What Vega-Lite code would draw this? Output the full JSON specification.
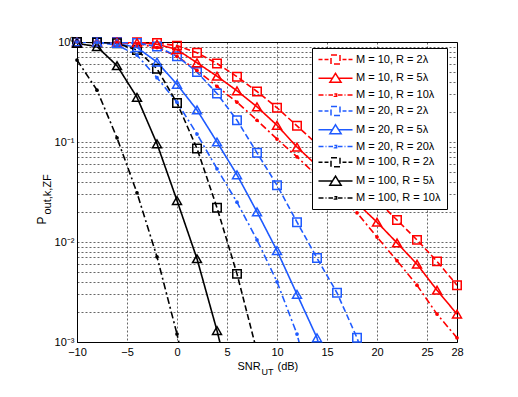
{
  "$schema": "https://vega.github.io/schema/vega-lite/v6.json",
  "width": 380,
  "height": 300,
  "autosize": {"type": "none"},
  "padding": {"left": 77, "top": 42, "right": 61, "bottom": 55},
  "background": "white",
  "config": {
    "view": {"stroke": "black", "strokeWidth": 1},
    "font": "Liberation Sans",
    "axis": {
      "labelFont": "Liberation Sans",
      "labelFontSize": 11,
      "labelColor": "black",
      "titleFont": "Liberation Sans",
      "titleFontWeight": "normal",
      "titleColor": "black",
      "domainColor": "black",
      "ticks": false,
      "gridColor": "#000000",
      "gridDash": [2, 2],
      "gridOpacity": 0.75,
      "gridWidth": 0.8
    }
  },
  "data": {
    "values": [
      {"s": "M = 10, R = 2λ", "x": -10, "y": 1},
      {"s": "M = 10, R = 2λ", "x": -8, "y": 1},
      {"s": "M = 10, R = 2λ", "x": -6, "y": 1},
      {"s": "M = 10, R = 2λ", "x": -4, "y": 0.995},
      {"s": "M = 10, R = 2λ", "x": -2, "y": 0.975},
      {"s": "M = 10, R = 2λ", "x": 0, "y": 0.92},
      {"s": "M = 10, R = 2λ", "x": 2, "y": 0.78},
      {"s": "M = 10, R = 2λ", "x": 4, "y": 0.61},
      {"s": "M = 10, R = 2λ", "x": 6, "y": 0.45},
      {"s": "M = 10, R = 2λ", "x": 8, "y": 0.32},
      {"s": "M = 10, R = 2λ", "x": 10, "y": 0.22},
      {"s": "M = 10, R = 2λ", "x": 12, "y": 0.145},
      {"s": "M = 10, R = 2λ", "x": 14, "y": 0.095},
      {"s": "M = 10, R = 2λ", "x": 16, "y": 0.062},
      {"s": "M = 10, R = 2λ", "x": 18, "y": 0.04},
      {"s": "M = 10, R = 2λ", "x": 20, "y": 0.026},
      {"s": "M = 10, R = 2λ", "x": 22, "y": 0.0166},
      {"s": "M = 10, R = 2λ", "x": 24, "y": 0.0105},
      {"s": "M = 10, R = 2λ", "x": 26, "y": 0.0064},
      {"s": "M = 10, R = 2λ", "x": 28, "y": 0.0037},
      {"s": "M = 10, R = 5λ", "x": -10, "y": 1},
      {"s": "M = 10, R = 5λ", "x": -8, "y": 1},
      {"s": "M = 10, R = 5λ", "x": -6, "y": 0.995},
      {"s": "M = 10, R = 5λ", "x": -4, "y": 0.985},
      {"s": "M = 10, R = 5λ", "x": -2, "y": 0.95},
      {"s": "M = 10, R = 5λ", "x": 0, "y": 0.84},
      {"s": "M = 10, R = 5λ", "x": 2, "y": 0.62},
      {"s": "M = 10, R = 5λ", "x": 4, "y": 0.455},
      {"s": "M = 10, R = 5λ", "x": 6, "y": 0.325},
      {"s": "M = 10, R = 5λ", "x": 8, "y": 0.225},
      {"s": "M = 10, R = 5λ", "x": 10, "y": 0.147},
      {"s": "M = 10, R = 5λ", "x": 12, "y": 0.089},
      {"s": "M = 10, R = 5λ", "x": 14, "y": 0.058},
      {"s": "M = 10, R = 5λ", "x": 16, "y": 0.037},
      {"s": "M = 10, R = 5λ", "x": 18, "y": 0.0245},
      {"s": "M = 10, R = 5λ", "x": 20, "y": 0.0158},
      {"s": "M = 10, R = 5λ", "x": 22, "y": 0.0098},
      {"s": "M = 10, R = 5λ", "x": 24, "y": 0.006},
      {"s": "M = 10, R = 5λ", "x": 26, "y": 0.0033},
      {"s": "M = 10, R = 5λ", "x": 28, "y": 0.0019},
      {"s": "M = 10, R = 10λ", "x": -10, "y": 1},
      {"s": "M = 10, R = 10λ", "x": -8, "y": 0.998},
      {"s": "M = 10, R = 10λ", "x": -6, "y": 0.99},
      {"s": "M = 10, R = 10λ", "x": -4, "y": 0.96},
      {"s": "M = 10, R = 10λ", "x": -2, "y": 0.88},
      {"s": "M = 10, R = 10λ", "x": 0, "y": 0.72},
      {"s": "M = 10, R = 10λ", "x": 2, "y": 0.52},
      {"s": "M = 10, R = 10λ", "x": 4, "y": 0.36},
      {"s": "M = 10, R = 10λ", "x": 6, "y": 0.25},
      {"s": "M = 10, R = 10λ", "x": 8, "y": 0.165},
      {"s": "M = 10, R = 10λ", "x": 10, "y": 0.107},
      {"s": "M = 10, R = 10λ", "x": 12, "y": 0.071},
      {"s": "M = 10, R = 10λ", "x": 14, "y": 0.046},
      {"s": "M = 10, R = 10λ", "x": 16, "y": 0.03},
      {"s": "M = 10, R = 10λ", "x": 18, "y": 0.0196},
      {"s": "M = 10, R = 10λ", "x": 20, "y": 0.0112},
      {"s": "M = 10, R = 10λ", "x": 22, "y": 0.0065},
      {"s": "M = 10, R = 10λ", "x": 24, "y": 0.0037},
      {"s": "M = 10, R = 10λ", "x": 26, "y": 0.0019},
      {"s": "M = 10, R = 10λ", "x": 28, "y": 0.0011},
      {"s": "M = 20, R = 2λ", "x": -10, "y": 1},
      {"s": "M = 20, R = 2λ", "x": -8, "y": 1},
      {"s": "M = 20, R = 2λ", "x": -6, "y": 0.995},
      {"s": "M = 20, R = 2λ", "x": -4, "y": 0.975},
      {"s": "M = 20, R = 2λ", "x": -2, "y": 0.9},
      {"s": "M = 20, R = 2λ", "x": 0, "y": 0.72},
      {"s": "M = 20, R = 2λ", "x": 2, "y": 0.5},
      {"s": "M = 20, R = 2λ", "x": 4, "y": 0.305},
      {"s": "M = 20, R = 2λ", "x": 6, "y": 0.165},
      {"s": "M = 20, R = 2λ", "x": 8, "y": 0.078},
      {"s": "M = 20, R = 2λ", "x": 10, "y": 0.037},
      {"s": "M = 20, R = 2λ", "x": 12, "y": 0.0158},
      {"s": "M = 20, R = 2λ", "x": 14, "y": 0.0069},
      {"s": "M = 20, R = 2λ", "x": 16, "y": 0.0031},
      {"s": "M = 20, R = 2λ", "x": 18, "y": 0.0011},
      {"s": "M = 20, R = 2λ", "x": 20, "y": 0.0003},
      {"s": "M = 20, R = 5λ", "x": -10, "y": 1},
      {"s": "M = 20, R = 5λ", "x": -8, "y": 0.995},
      {"s": "M = 20, R = 5λ", "x": -6, "y": 0.97},
      {"s": "M = 20, R = 5λ", "x": -4, "y": 0.88},
      {"s": "M = 20, R = 5λ", "x": -2, "y": 0.63},
      {"s": "M = 20, R = 5λ", "x": 0, "y": 0.377},
      {"s": "M = 20, R = 5λ", "x": 2, "y": 0.209},
      {"s": "M = 20, R = 5λ", "x": 4, "y": 0.1},
      {"s": "M = 20, R = 5λ", "x": 6, "y": 0.047},
      {"s": "M = 20, R = 5λ", "x": 8, "y": 0.02},
      {"s": "M = 20, R = 5λ", "x": 10, "y": 0.0082},
      {"s": "M = 20, R = 5λ", "x": 12, "y": 0.003},
      {"s": "M = 20, R = 5λ", "x": 14, "y": 0.0011},
      {"s": "M = 20, R = 5λ", "x": 16, "y": 0.0002},
      {"s": "M = 20, R = 20λ", "x": -10, "y": 1},
      {"s": "M = 20, R = 20λ", "x": -8, "y": 0.99},
      {"s": "M = 20, R = 20λ", "x": -6, "y": 0.93},
      {"s": "M = 20, R = 20λ", "x": -4, "y": 0.74},
      {"s": "M = 20, R = 20λ", "x": -2, "y": 0.44},
      {"s": "M = 20, R = 20λ", "x": 0, "y": 0.25},
      {"s": "M = 20, R = 20λ", "x": 2, "y": 0.12},
      {"s": "M = 20, R = 20λ", "x": 4, "y": 0.054},
      {"s": "M = 20, R = 20λ", "x": 6, "y": 0.025},
      {"s": "M = 20, R = 20λ", "x": 8, "y": 0.0105},
      {"s": "M = 20, R = 20λ", "x": 10, "y": 0.004},
      {"s": "M = 20, R = 20λ", "x": 12, "y": 0.0012},
      {"s": "M = 20, R = 20λ", "x": 14, "y": 0.0002},
      {"s": "M = 100, R = 2λ", "x": -10, "y": 1},
      {"s": "M = 100, R = 2λ", "x": -8, "y": 0.99},
      {"s": "M = 100, R = 2λ", "x": -6, "y": 0.97},
      {"s": "M = 100, R = 2λ", "x": -4, "y": 0.83},
      {"s": "M = 100, R = 2λ", "x": -2, "y": 0.54},
      {"s": "M = 100, R = 2λ", "x": 0, "y": 0.246},
      {"s": "M = 100, R = 2λ", "x": 2, "y": 0.086},
      {"s": "M = 100, R = 2λ", "x": 4, "y": 0.022},
      {"s": "M = 100, R = 2λ", "x": 6, "y": 0.0048},
      {"s": "M = 100, R = 2λ", "x": 8, "y": 0.0008},
      {"s": "M = 100, R = 5λ", "x": -10, "y": 0.97},
      {"s": "M = 100, R = 5λ", "x": -8, "y": 0.9},
      {"s": "M = 100, R = 5λ", "x": -6, "y": 0.58},
      {"s": "M = 100, R = 5λ", "x": -4, "y": 0.28},
      {"s": "M = 100, R = 5λ", "x": -2, "y": 0.096},
      {"s": "M = 100, R = 5λ", "x": 0, "y": 0.026},
      {"s": "M = 100, R = 5λ", "x": 2, "y": 0.0068},
      {"s": "M = 100, R = 5λ", "x": 4, "y": 0.0013},
      {"s": "M = 100, R = 5λ", "x": 6, "y": 0.0002},
      {"s": "M = 100, R = 10λ", "x": -10, "y": 0.66},
      {"s": "M = 100, R = 10λ", "x": -8, "y": 0.33},
      {"s": "M = 100, R = 10λ", "x": -6, "y": 0.11},
      {"s": "M = 100, R = 10λ", "x": -4, "y": 0.031},
      {"s": "M = 100, R = 10λ", "x": -2, "y": 0.0071},
      {"s": "M = 100, R = 10λ", "x": 0, "y": 0.0012},
      {"s": "M = 100, R = 10λ", "x": 2, "y": 0.00016}
    ]
  },
  "resolve": {"axis": {"x": "independent", "y": "independent"}},
  "layer": [
    {
      "transform": [
        {"filter": "datum.x > 1000"}
      ],
      "mark": {"type": "point", "strokeWidth": 1.5, "size": 81, "opacity": 1},
      "encoding": {
        "x": {"field": "x", "type": "quantitative", "axis": null},
        "y": {"field": "y", "type": "quantitative", "axis": null},
        "fill": {
          "field": "s", "type": "nominal",
          "scale": {
            "domain": ["M = 10, R = 2λ", "M = 10, R = 5λ", "M = 10, R = 10λ", "M = 20, R = 2λ", "M = 20, R = 5λ", "M = 20, R = 20λ", "M = 100, R = 2λ", "M = 100, R = 5λ", "M = 100, R = 10λ"],
            "range": ["white", "white", "white", "white", "white", "white", "white", "white", "white"]
          },
          "legend": {
            "orient": "none",
            "legendX": 235,
            "legendY": 6,
            "zindex": 1,
            "title": null,
            "fillColor": "white",
            "strokeColor": "black",
            "padding": 6,
            "rowPadding": 2.8,
            "labelFont": "Liberation Sans",
            "labelFontSize": 11,
            "labelColor": "black",
            "symbolSize": 81,
            "symbolStrokeWidth": 1.5,
            "symbolOffset": 12,
            "labelOffset": 15
          }
        },
        "stroke": {
          "field": "s", "type": "nominal",
          "scale": {
            "domain": ["M = 10, R = 2λ", "M = 10, R = 5λ", "M = 10, R = 10λ", "M = 20, R = 2λ", "M = 20, R = 5λ", "M = 20, R = 20λ", "M = 100, R = 2λ", "M = 100, R = 5λ", "M = 100, R = 10λ"],
            "range": ["#ff0000", "#ff0000", "#ff0000", "#1f5bff", "#1f5bff", "#1f5bff", "#000000", "#000000", "#000000"]
          },
          "legend": {
            "orient": "none",
            "legendX": 235,
            "legendY": 6,
            "zindex": 1,
            "title": null,
            "fillColor": "white",
            "strokeColor": "black",
            "padding": 6,
            "rowPadding": 2.8,
            "labelFont": "Liberation Sans",
            "labelFontSize": 11,
            "labelColor": "black",
            "symbolSize": 81,
            "symbolStrokeWidth": 1.5,
            "symbolOffset": 12,
            "labelOffset": 15
          }
        },
        "shape": {
          "field": "s", "type": "nominal",
          "scale": {
            "domain": ["M = 10, R = 2λ", "M = 10, R = 5λ", "M = 10, R = 10λ", "M = 20, R = 2λ", "M = 20, R = 5λ", "M = 20, R = 20λ", "M = 100, R = 2λ", "M = 100, R = 5λ", "M = 100, R = 10λ"],
            "range": [
              "M-3.78,0H-2.89M-2.44,0H-1.56M1.56,0H2.44M2.89,0H3.78M-1,-1H1V1H-1Z",
              "M-3.78,0H-0.69M0.69,0H3.78M0,-1.1L1.25,0.9H-1.25Z",
              "M-3.78,0H-2.67M-2.22,0H-2M-1.56,0H-0.56M0.56,0H1.56M2,0H2.22M2.67,0H3.78M-0.25,-0.25H0.25V0.25H-0.25Z",
              "M-3.78,0H-2.89M-2.44,0H-1.56M1.56,0H2.44M2.89,0H3.78M-1,-1H1V1H-1Z",
              "M-3.78,0H-0.69M0.69,0H3.78M0,-1.1L1.25,0.9H-1.25Z",
              "M-3.78,0H-2.67M-2.22,0H-2M-1.56,0H-0.56M0.56,0H1.56M2,0H2.22M2.67,0H3.78M-0.25,-0.25H0.25V0.25H-0.25Z",
              "M-3.78,0H-2.89M-2.44,0H-1.56M1.56,0H2.44M2.89,0H3.78M-1,-1H1V1H-1Z",
              "M-3.78,0H-0.69M0.69,0H3.78M0,-1.1L1.25,0.9H-1.25Z",
              "M-3.78,0H-2.67M-2.22,0H-2M-1.56,0H-0.56M0.56,0H1.56M2,0H2.22M2.67,0H3.78M-0.25,-0.25H0.25V0.25H-0.25Z"
            ]
          },
          "legend": {
            "orient": "none",
            "legendX": 235,
            "legendY": 6,
            "zindex": 1,
            "title": null,
            "fillColor": "white",
            "strokeColor": "black",
            "padding": 6,
            "rowPadding": 2.8,
            "labelFont": "Liberation Sans",
            "labelFontSize": 11,
            "labelColor": "black",
            "symbolSize": 81,
            "symbolStrokeWidth": 1.5,
            "symbolOffset": 12,
            "labelOffset": 15
          }
        }
      }
    },
    {
      "mark": {"type": "line", "clip": true, "strokeWidth": 1.6},
      "encoding": {
        "x": {
          "field": "x", "type": "quantitative",
          "scale": {"domain": [-10, 28], "nice": false, "zero": false},
          "axis": {
            "orient": "bottom",
            "values": [-10, -5, 0, 5, 10, 15, 20, 25, 28],
            "labelFlush": false,
            "labelPadding": 4,
            "grid": true,
            "title": "SNR",
            "titleFontSize": 11,
            "titleX": 160,
            "titleY": 27,
            "titleAlign": "left",
            "titleBaseline": "alphabetic"
          }
        },
        "y": {
          "field": "y", "type": "quantitative",
          "scale": {"type": "log", "domain": [0.001, 1], "nice": false},
          "axis": {
            "orient": "left",
            "values": [0.001, 0.002, 0.003, 0.004, 0.005, 0.006, 0.007, 0.008, 0.009, 0.01, 0.02, 0.03, 0.04, 0.05, 0.06, 0.07, 0.08, 0.09, 0.1, 0.2, 0.3, 0.4, 0.5, 0.6, 0.7, 0.8, 0.9, 1],
            "labelExpr": "datum.value > 0.99 ? '10⁰' : abs(datum.value - 0.1) < 1e-6 ? '10⁻¹' : abs(datum.value - 0.01) < 1e-7 ? '10⁻²' : abs(datum.value - 0.001) < 1e-8 ? '10⁻³' : ''",
            "labelOverlap": false,
            "labelPadding": 3,
            "grid": true,
            "title": "P",
            "titleFontSize": 12,
            "titleAngle": -90,
            "titleX": -32,
            "titleY": 182,
            "titleAlign": "left",
            "titleBaseline": "alphabetic"
          }
        },
        "color": {
          "field": "s", "type": "nominal",
          "scale": {
            "domain": ["M = 10, R = 2λ", "M = 10, R = 5λ", "M = 10, R = 10λ", "M = 20, R = 2λ", "M = 20, R = 5λ", "M = 20, R = 20λ", "M = 100, R = 2λ", "M = 100, R = 5λ", "M = 100, R = 10λ"],
            "range": ["#ff0000", "#ff0000", "#ff0000", "#1f5bff", "#1f5bff", "#1f5bff", "#000000", "#000000", "#000000"]
          },
          "legend": null
        },
        "strokeDash": {
          "field": "s", "type": "nominal",
          "scale": {
            "domain": ["M = 10, R = 2λ", "M = 10, R = 5λ", "M = 10, R = 10λ", "M = 20, R = 2λ", "M = 20, R = 5λ", "M = 20, R = 20λ", "M = 100, R = 2λ", "M = 100, R = 5λ", "M = 100, R = 10λ"],
            "range": [[6, 3], [1, 0], [7, 3, 2, 3], [6, 3], [1, 0], [7, 3, 2, 3], [6, 3], [1, 0], [7, 3, 2, 3]]
          },
          "legend": null
        }
      }
    },
    {
      "transform": [
        {"filter": "test(/R = 2λ$/, datum.s) && datum.y >= 0.00099"}
      ],
      "mark": {"type": "point", "shape": "square", "filled": false, "strokeWidth": 1.5, "size": 72, "opacity": 1, "clip": false},
      "encoding": {
        "x": {
          "field": "x", "type": "quantitative",
          "axis": {
            "orient": "bottom", "labels": false, "domain": false, "grid": false, "ticks": false,
            "title": "UT", "titleFontSize": 9, "titleX": 184, "titleY": 32, "titleAlign": "left", "titleBaseline": "alphabetic"
          }
        },
        "y": {
          "field": "y", "type": "quantitative",
          "axis": {
            "orient": "left", "labels": false, "domain": false, "grid": false, "ticks": false,
            "title": "out,k,ZF", "titleFontSize": 11, "titleAngle": -90, "titleX": -27, "titleY": 172, "titleAlign": "left", "titleBaseline": "alphabetic"
          }
        },
        "color": {"field": "s", "type": "nominal", "legend": null}
      }
    },
    {
      "transform": [
        {"filter": "test(/R = 5λ$/, datum.s) && datum.y >= 0.00099"}
      ],
      "mark": {"type": "point", "shape": "triangle-up", "filled": false, "strokeWidth": 1.5, "size": 80, "opacity": 1, "clip": false},
      "encoding": {
        "x": {"field": "x", "type": "quantitative", "axis": null},
        "y": {"field": "y", "type": "quantitative", "axis": null},
        "color": {"field": "s", "type": "nominal", "legend": null}
      }
    },
    {
      "transform": [
        {"filter": "test(/R = (10|20)λ$/, datum.s) && datum.y >= 0.00099"}
      ],
      "mark": {"type": "circle", "size": 14, "opacity": 1, "clip": false},
      "encoding": {
        "x": {
          "field": "x", "type": "quantitative",
          "axis": {
            "orient": "bottom", "labels": false, "domain": false, "grid": false, "ticks": false,
            "title": "(dB)", "titleFontSize": 11, "titleX": 200, "titleY": 27, "titleAlign": "left", "titleBaseline": "alphabetic"
          }
        },
        "y": {"field": "y", "type": "quantitative", "axis": null},
        "color": {"field": "s", "type": "nominal", "legend": null}
      }
    }
  ]
}
